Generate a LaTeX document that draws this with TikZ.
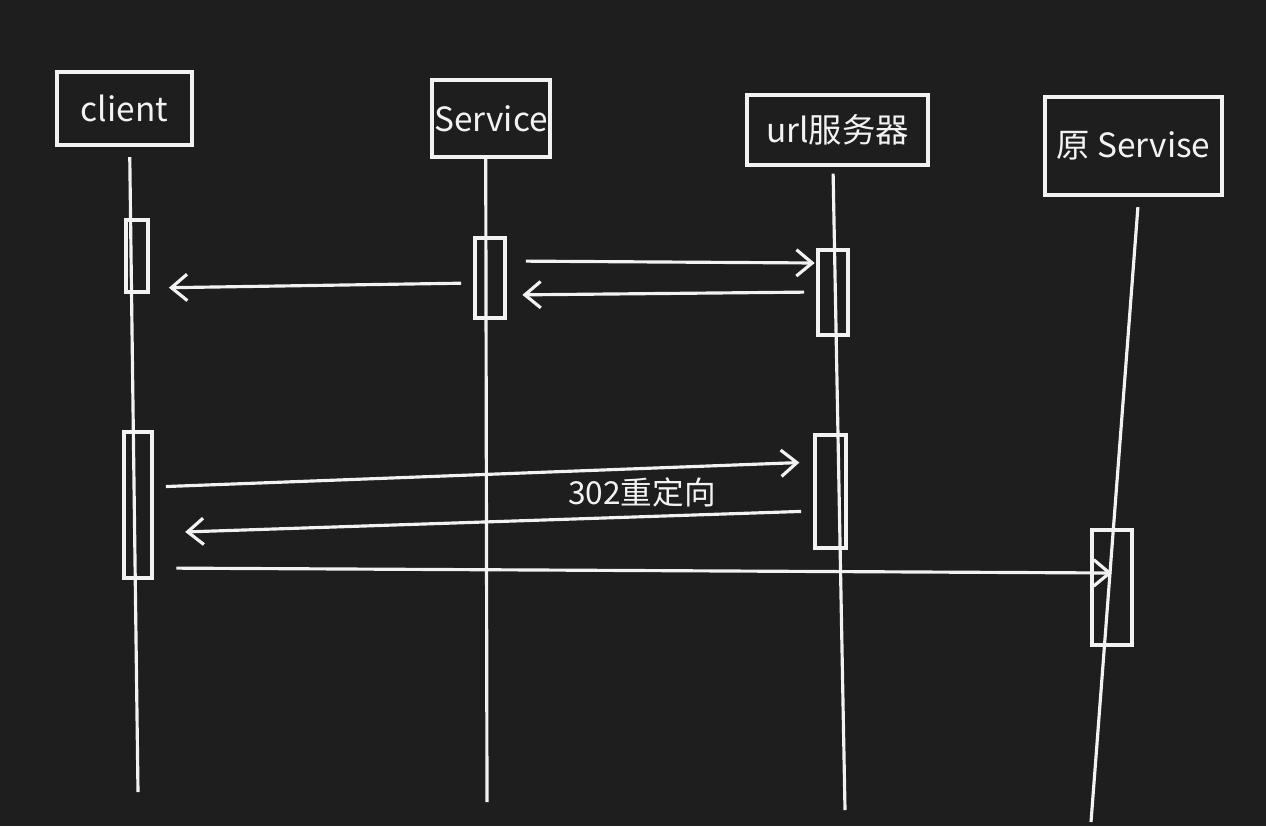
\documentclass[tikz,border=0pt]{standalone}
\usepackage{fontspec}
\setmainfont{Noto Sans CJK SC}
\usetikzlibrary{arrows.meta}
\definecolor{SeqBg}{HTML}{1E1E1E}
\definecolor{SeqInk}{HTML}{F2F2F2}

\begin{document}
\begin{tikzpicture}[x=0.02cm,y=-0.02cm,line width=1.8pt,
  >={Straight Barb[length=9pt,width=15pt,line width=1.8pt]},
  actor/.style={draw=SeqInk,text=SeqInk,font=\fontsize{19}{21}\selectfont,inner sep=0pt},
  bar/.style={draw=SeqInk,minimum width=0.55cm,inner sep=0pt},
  life/.style={draw=SeqInk},
  msg/.style={->,draw=SeqInk,shorten <=7pt,shorten >=8pt}]
  \fill[SeqBg] (0,0) rectangle (1266,826);
  % participants
  \node[actor,minimum width=2.7cm,minimum height=1.46cm] (cli) at (124.5,108.5) {client};
  \node[actor,minimum width=2.36cm,minimum height=1.54cm] (svc) at (491,118.5) {Service};
  \node[actor,minimum width=3.62cm,minimum height=1.4cm] (url) at (837.5,130) {url服务器};
  \node[actor,minimum width=3.54cm,minimum height=1.96cm] (org) at (1133.5,146) {原 Servise};
  % lifelines
  \coordinate (cliEnd) at (138,792);
  \coordinate (svcEnd) at (487,802);
  \coordinate (urlEnd) at (845,810);
  \coordinate (orgEnd) at (1091,822);
  \draw[life] ([xshift=3pt,yshift=-6pt]cli.south) -- (cliEnd);
  \draw[life] ([xshift=-3pt]svc.south) -- (svcEnd);
  \draw[life] ([xshift=-2.5pt,yshift=-4pt]url.south) -- (urlEnd);
  \draw[life] ([xshift=2.5pt,yshift=-6pt]org.south) -- (orgEnd);
  % activation bars
  \node[bar,minimum width=0.44cm,minimum height=1.44cm] (cliA) at (137,256) {};
  \node[bar,minimum width=0.6cm,minimum height=1.6cm] (svcA) at (490,278) {};
  \node[bar,minimum width=0.6cm,minimum height=1.7cm] (urlA) at (833,292.5) {};
  \node[bar,minimum width=0.56cm,minimum height=2.92cm] (cliB) at (138,505) {};
  \node[bar,minimum width=0.62cm,minimum height=2.26cm] (urlB) at (830.5,491.5) {};
  \node[bar,minimum width=0.8cm,minimum height=2.3cm] (orgA) at (1112,587.5) {};
  % messages
  \draw[msg,shorten >=11pt] (svcA.west |- 0,283) -- (cliA.east |- 0,288);
  \draw[msg,shorten <=11pt,shorten >=1pt] (svcA.east |- 0,261) -- (urlA.west |- 0,263);
  \draw[msg,shorten >=9pt] (urlA.west |- 0,292) -- (svcA.east |- 0,295);
  \draw[msg] (cliB.east |- 0,487) -- (urlB.west |- 0,462);
  \draw[msg,shorten >=18pt] (urlB.west |- 0,511) -- node[pos=0.26,above=1pt,text=SeqInk,font=\fontsize{18}{20}\selectfont] (lbl) {302重定向} (cliB.east |- 0,533);
  \draw[msg,shorten <=13pt,shorten >=0pt] (cliB.east |- 0,568) -- (orgA.center |- 0,573);
\end{tikzpicture}
\end{document}
